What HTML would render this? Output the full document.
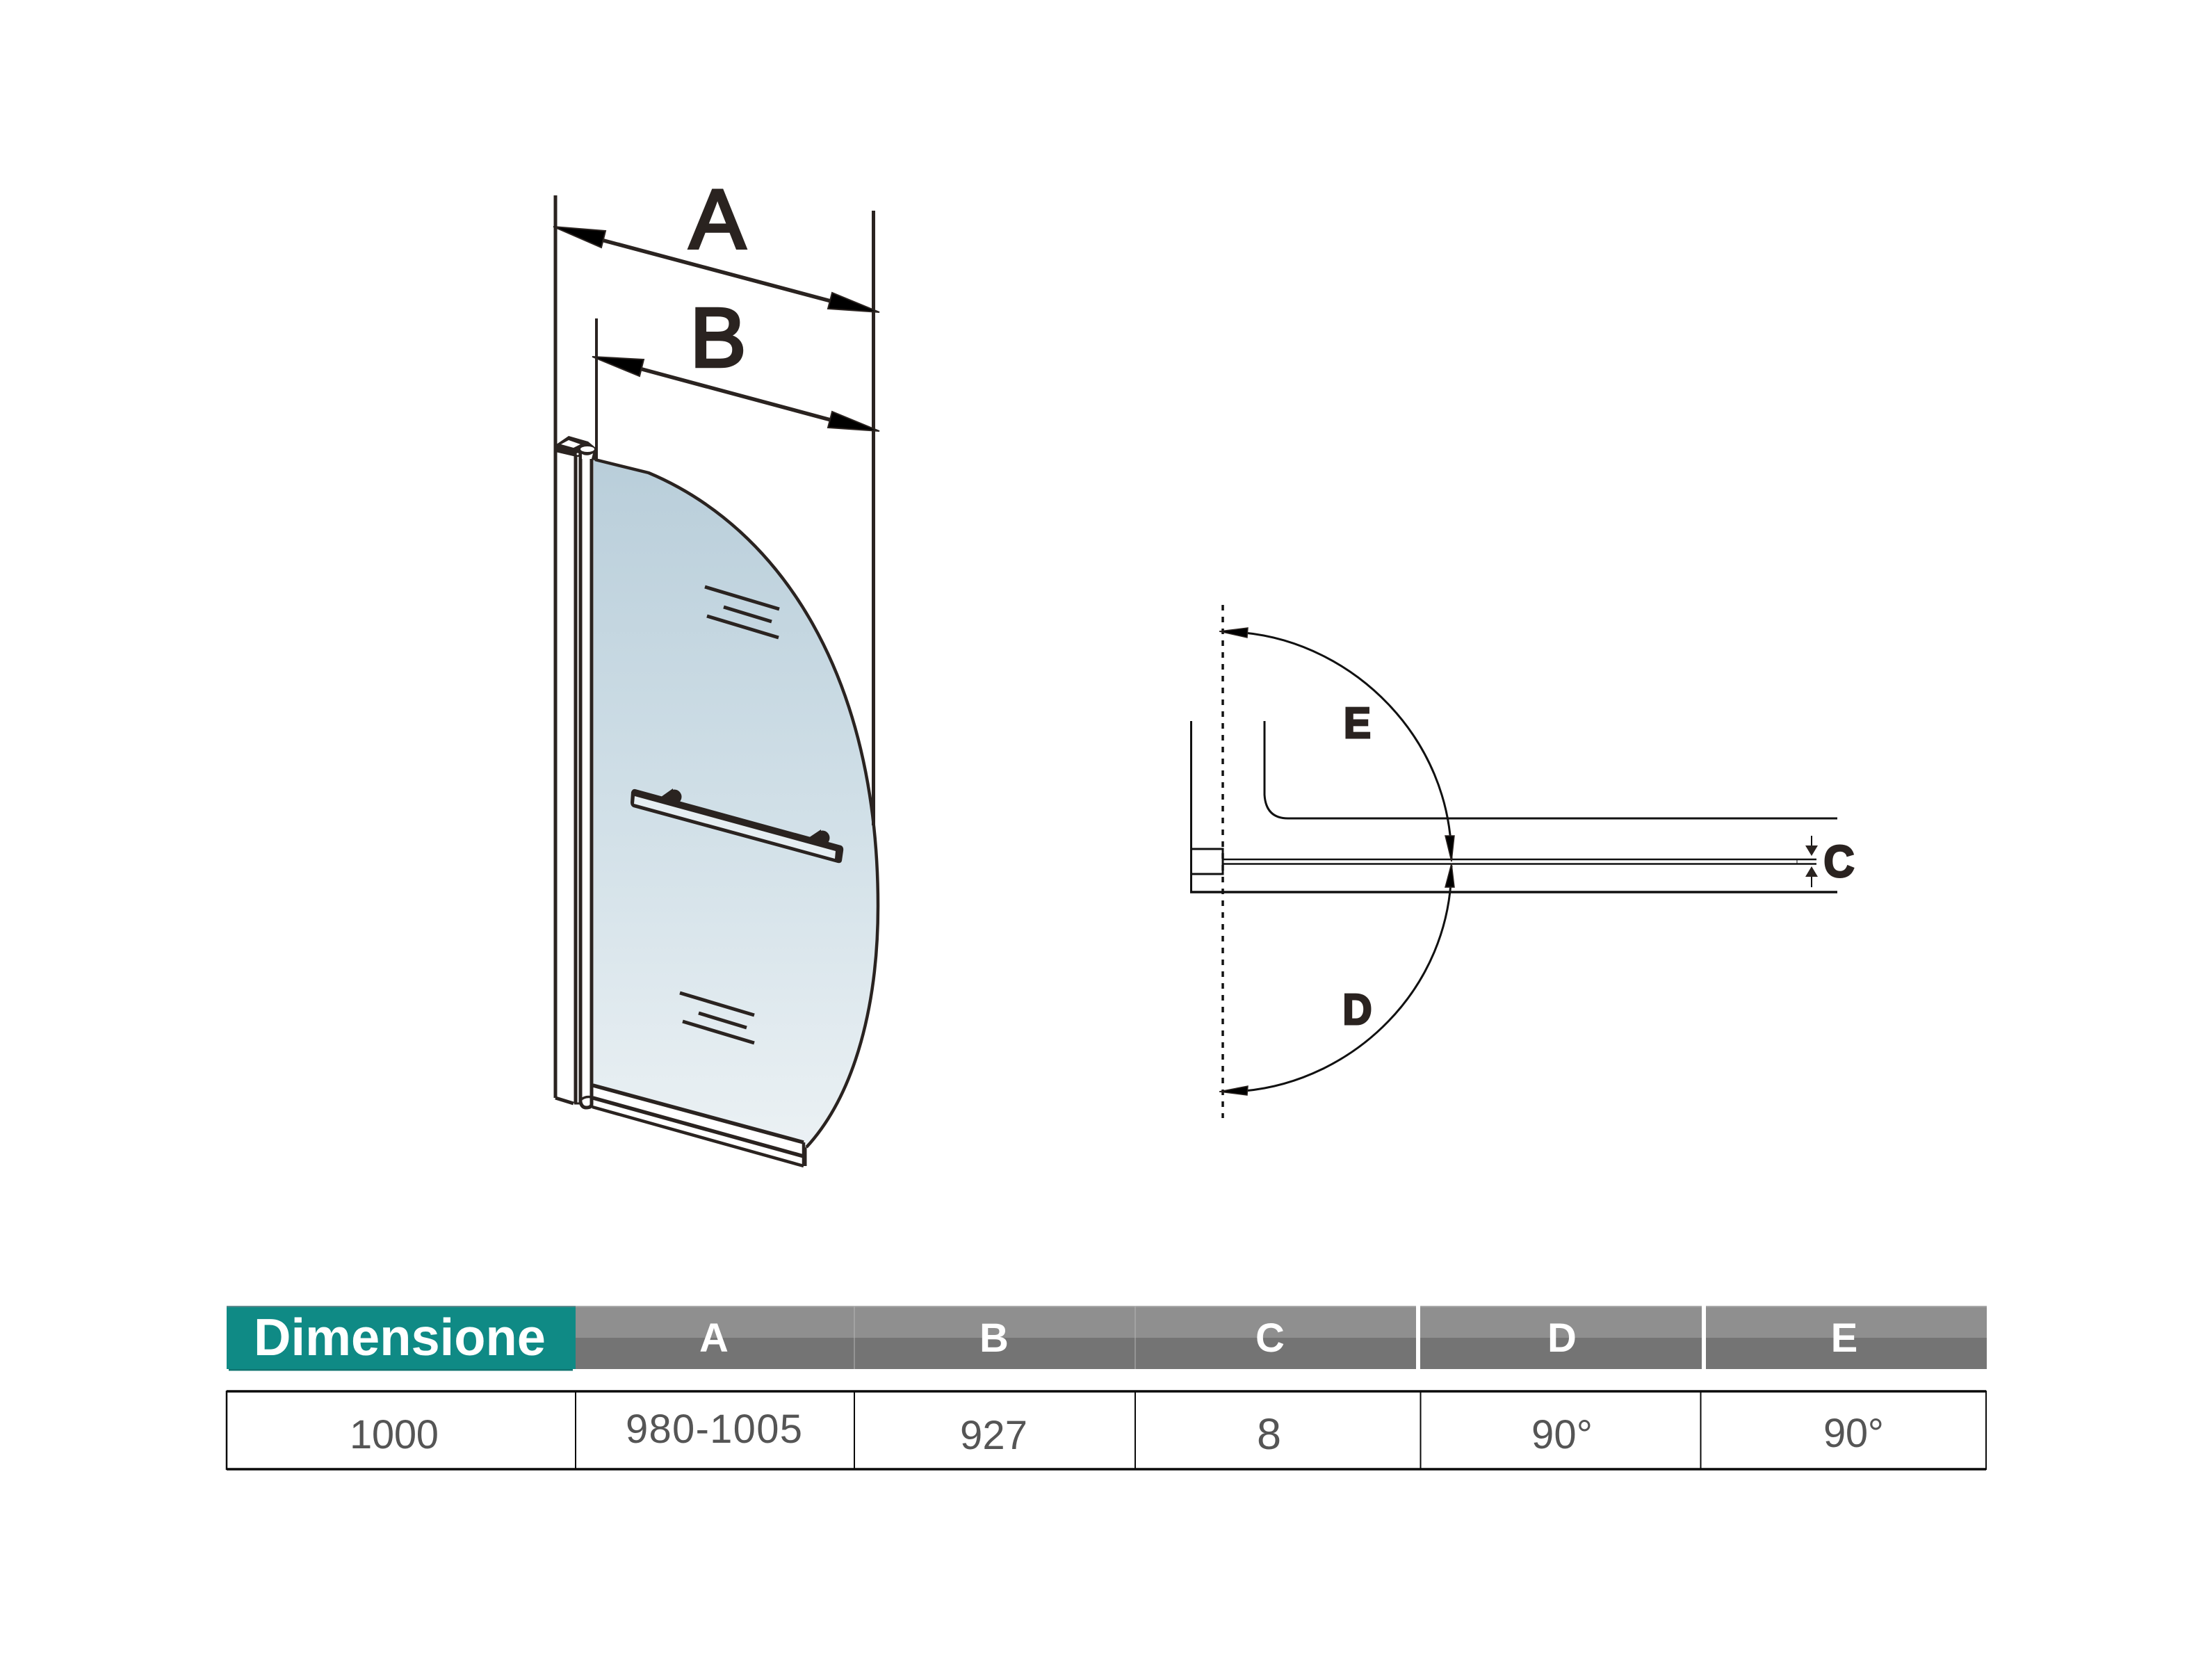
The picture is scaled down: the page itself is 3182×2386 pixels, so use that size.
<!DOCTYPE html>
<html>
<head>
<meta charset="utf-8">
<style>
html,body{margin:0;padding:0;background:#fff;}
svg{display:block;}
</style>
</head>
<body>
<svg xmlns="http://www.w3.org/2000/svg" width="3182" height="2386" viewBox="0 0 3182 2386">
<defs>
<linearGradient id="g" x1="0" y1="660" x2="0" y2="1650" gradientUnits="userSpaceOnUse">
<stop offset="0" stop-color="#b9ceda"/>
<stop offset="0.5" stop-color="#d0dfe7"/>
<stop offset="1" stop-color="#ebf1f4"/>
</linearGradient>
</defs>
<rect width="3182" height="2386" fill="#fff"/>

<!-- glass -->
<path d="M854,661 L933,680 C1123,760 1263,973 1263,1303 C1263,1440 1232,1572 1160,1650 L1156,1645 L854,1562 Z" fill="url(#g)"/>

<g fill="none" stroke="#2a2320" stroke-linecap="butt">
<!-- dimension extension lines -->
<path d="M799,281 V1579" stroke-width="5"/>
<path d="M858,458 V660" stroke-width="4"/>
<path d="M1256.5,303 V1187" stroke-width="5"/>
<!-- dimension shafts -->
<path d="M865,345 L1195,433" stroke-width="5.5"/>
<path d="M920,530 L1195,604" stroke-width="5.5"/>
<!-- curved edge -->
<path d="M856,661 L933,680 C1123,760 1263,973 1263,1303 C1263,1440 1232,1572 1160,1650" stroke-width="4.5"/>
<!-- hinge verticals -->
<path d="M828,655 V1587" stroke-width="5"/>
<path d="M835,655 V1585 Q837,1593 843,1593 Q851,1593 851,1588 V655" stroke-width="5"/>
<path d="M835,1582 Q842,1576 851,1578" stroke-width="3.5"/>
<path d="M799,1579 L825,1587" stroke-width="5"/>
<path d="M826,1587 L834,1587" stroke-width="3"/>
<!-- bottom rail -->
<path d="M853,1561 L1156,1643" stroke-width="5.5"/>
<path d="M853,1579 L1156,1663" stroke-width="5.5"/>
<path d="M852,1592 L1156,1677" stroke-width="4.5"/>
<path d="M1156,1643 V1677" stroke-width="4.5"/>
<path d="M1159,1650 V1677" stroke-width="3"/>
<!-- etched stripes top -->
<path d="M1014,844 L1121,876" stroke-width="5"/>
<path d="M1041,873 L1110,894" stroke-width="5"/>
<path d="M1017,886 L1120,917" stroke-width="5"/>
<!-- etched stripes bottom -->
<path d="M978,1428 L1085,1460" stroke-width="5"/>
<path d="M1005,1457 L1074,1478" stroke-width="5"/>
<path d="M982,1469 L1085,1500" stroke-width="5"/>
</g>

<!-- hinge cap -->
<path d="M799,640 L818,627 L846,635 L858,645 L856,662 L829,657 L799,650 Z" fill="#2a2320"/>
<path d="M807,639 L818,633 L835,639 L825,644 Z" fill="#fff"/>
<ellipse cx="845" cy="646" rx="10" ry="4" fill="#fff"/>
<path d="M837,653 Q845,657 853,652 L851,660 L837,660 Z" fill="#fff"/>
<circle cx="831" cy="653" r="1.5" fill="#fff"/>
<rect x="830.5" y="657" width="2" height="30" fill="#fff"/>
<rect x="838" y="660" width="10.5" height="30" fill="#fff"/>

<!-- arrowheads A,B -->
<g fill="#000" stroke="#2a2320" stroke-width="2">
<path d="M796,326 L871,332 L865,356 Z"/>
<path d="M1265,449 L1197,421 L1191,444 Z"/>
<path d="M852,513 L926,517 L920,541 Z"/>
<path d="M1265,620 L1197,592 L1191,615 Z"/>
</g>

<!-- towel bar -->
<circle cx="970" cy="1146" r="10.5" fill="#2a2320"/>
<circle cx="1183" cy="1205" r="10.5" fill="#2a2320"/>
<path d="M951,1146 L968,1134 L968,1150 Z" fill="#2a2320"/>
<path d="M1163,1205 L1181,1193 L1181,1210 Z" fill="#2a2320"/>
<path d="M914,1135 L1210,1216 Q1214,1218 1213,1224 L1211,1238 Q1210,1242 1205,1241 L911,1161 Q907,1159 907,1154 L908,1139 Q910,1134 914,1135 Z" fill="#2a2320"/>
<path d="M913,1145 L1202,1224 L1201,1235 L912,1156 Z" fill="#e6eef2"/>

<!-- A / B labels -->
<text x="1032" y="357" font-family="'Liberation Sans',sans-serif" font-size="121" text-anchor="middle" fill="#2a2320" stroke="#2a2320" stroke-width="4.5">A</text>
<text x="1033" y="527" font-family="'Liberation Sans',sans-serif" font-size="121" text-anchor="middle" fill="#2a2320" stroke="#2a2320" stroke-width="4.5">B</text>

<!-- right diagram -->
<g fill="none" stroke="#111">
<path d="M1713.5,1037 V1283" stroke-width="3"/>
<path d="M1819,1037 V1143 Q1821,1177 1853,1177 H2643" stroke-width="3"/>
<path d="M1712,1283 H2643" stroke-width="3.5"/>
<path d="M1759,870 V1608" stroke-width="3.5" stroke-dasharray="8 9"/>
<rect x="1713.5" y="1221" width="45.5" height="36" stroke-width="3"/>
<path d="M1759,1236 H2613" stroke-width="2.5"/>
<path d="M1759,1242.5 H2613" stroke-width="2.5"/>
<path d="M2585,1236 V1243" stroke-width="1"/>
<path d="M2606,1202 V1220" stroke-width="2"/>
<path d="M2606,1258 V1276" stroke-width="2"/>
<path d="M1790,910 C1945,925 2088,1060 2088,1237" stroke-width="3"/>
<path d="M2088,1245 C2088,1424 1945,1555 1790,1569" stroke-width="3"/>
</g>
<g fill="#000" stroke="#2a2320" stroke-width="1.5">
<path d="M1754,908 L1795,903 L1794,917 Z"/>
<path d="M1754,1570 L1795,1562 L1794,1575 Z"/>
<path d="M2079,1202 L2092,1202 L2088,1239 Z"/>
<path d="M2079,1276 L2092,1276 L2088,1242 Z"/>
</g>
<g fill="#2a2320">
<path d="M2597,1216 H2615 L2606,1231 Z"/>
<path d="M2597,1261 H2615 L2606,1246 Z"/>
</g>
<g font-family="'Liberation Sans',sans-serif" font-weight="700" fill="#2a2320" stroke="#2a2320" stroke-width="3" text-anchor="middle">
<text x="1952.5" y="1061" font-size="62" textLength="39" lengthAdjust="spacingAndGlyphs">E</text>
<text x="1952.5" y="1473" font-size="62" textLength="42" lengthAdjust="spacingAndGlyphs">D</text>
<text x="2645.5" y="1261" font-size="64" textLength="44" lengthAdjust="spacingAndGlyphs">C</text>
</g>

<!-- table header -->
<rect x="326" y="1878" width="502" height="91" fill="#0f8a85"/>
<rect x="329" y="1969" width="495" height="2.5" fill="#0f7470"/>
<rect x="326" y="1878" width="502" height="2" fill="#5d8a8e"/>
<rect x="828" y="1878" width="2030" height="46" fill="#8f8f8f"/>
<rect x="828" y="1924" width="2030" height="45" fill="#747474"/>
<rect x="828" y="1878" width="2030" height="2" fill="#a8a8a8"/>
<rect x="1228.5" y="1878" width="1" height="91" fill="#b5b5b5"/>
<rect x="1632.5" y="1878" width="1" height="91" fill="#b5b5b5"/>
<rect x="2037" y="1877" width="6" height="93" fill="#fff"/>
<rect x="2448" y="1877" width="6" height="93" fill="#fff"/>
<text x="365" y="1949" font-family="'Liberation Sans',sans-serif" font-weight="700" font-size="75" fill="#fff" textLength="420" lengthAdjust="spacingAndGlyphs">Dimensione</text>
<g font-family="'Liberation Sans',sans-serif" font-weight="700" font-size="58" fill="#fff" text-anchor="middle">
<text x="1027" y="1944">A</text>
<text x="1430" y="1944">B</text>
<text x="1827" y="1944">C</text>
<text x="2247" y="1944">D</text>
<text x="2653" y="1944">E</text>
</g>

<!-- table row -->
<g fill="none" stroke="#0a0a0a">
<path d="M326,2001 H2857" stroke-width="3.5"/>
<path d="M326,2113 H2857" stroke-width="3.5"/>
<path d="M326,2000 V2114" stroke-width="2.5"/>
<path d="M828,2001 V2113" stroke-width="2"/>
<path d="M1229,2001 V2113" stroke-width="2"/>
<path d="M1633,2001 V2113" stroke-width="2"/>
<path d="M2043.5,2001 V2113" stroke-width="2"/>
<path d="M2446.5,2001 V2113" stroke-width="2"/>
<path d="M2857,2000 V2114" stroke-width="2"/>
</g>
<g font-family="'Liberation Sans',sans-serif" font-size="58" fill="#555">
<text x="503" y="2083" textLength="128">1000</text>
<text x="900" y="2075" textLength="254">980-1005</text>
<text x="1381" y="2084" textLength="97">927</text>
<text x="1808" y="2084" font-size="63" textLength="35">8</text>
<text x="2203" y="2083" textLength="88">90°</text>
<text x="2623" y="2081" textLength="87">90°</text>
</g>
</svg>
</body>
</html>
